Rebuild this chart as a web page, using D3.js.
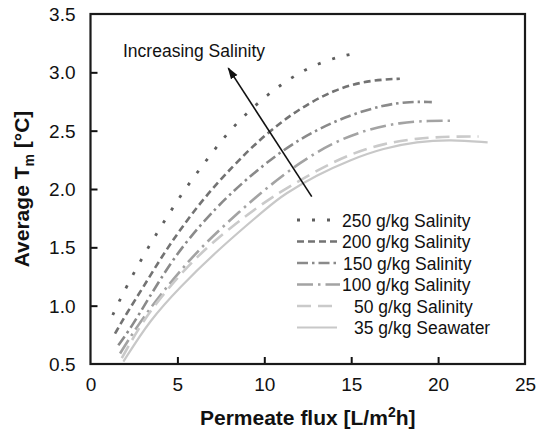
<!DOCTYPE html>
<html><head><meta charset="utf-8">
<script src="https://cdn.jsdelivr.net/npm/d3@7"></script>
<style>
body{margin:0;background:#fff;}
text{font-family:"Liberation Sans",Arial,Helvetica,sans-serif;}
</style></head>
<body><svg id="c" width="536" height="433"></svg>
<script>
// ---- data ----
const xTicks = [0, 5, 10, 15, 20, 25];
const yTicks = [0.5, 1.0, 1.5, 2.0, 2.5, 3.0, 3.5];
const seriesNames = ["250 g/kg Salinity", "200 g/kg Salinity", "150 g/kg Salinity", "100 g/kg Salinity", "50 g/kg Salinity", "35 g/kg Seawater"];

const x250 = [1.28, 1.70, 2.56, 3.48, 4.44, 5.48, 6.59, 7.65, 8.9, 10.2, 11.3, 12.64, 14.36, 15.42];
const y250 = [0.92, 1.055, 1.30, 1.54, 1.77, 2.01, 2.23, 2.44, 2.64, 2.81, 2.93, 3.05, 3.14, 3.165];

const x200 = [1.41, 2.08, 3.04, 4.1, 5.15, 6.59, 8.22, 9.5, 11.0, 12.5, 14.0, 15.5, 16.9, 17.8];
const y200 = [0.76, 0.935, 1.16, 1.42, 1.65, 1.935, 2.20, 2.39, 2.58, 2.73, 2.845, 2.915, 2.94, 2.945];

const x150 = [1.6, 2.37, 3.33, 4.58, 5.73, 7.27, 8.22, 9.18, 11.1, 13.02, 14.94, 16.86, 18.4, 19.64];
const y150 = [0.66, 0.82, 1.06, 1.36, 1.59, 1.845, 1.98, 2.11, 2.34, 2.51, 2.635, 2.72, 2.75, 2.745];

const x100 = [1.7, 2.66, 4.0, 5.34, 6.69, 8.6, 10.14, 12.06, 13.98, 15.9, 17.82, 19.5, 20.8];
const y100 = [0.59, 0.82, 1.09, 1.33, 1.55, 1.81, 2.01, 2.23, 2.40, 2.51, 2.57, 2.585, 2.585];

const x50 = [1.8, 3.04, 4.58, 6.11, 8.03, 10.14, 11.1, 13.02, 14.94, 16.86, 18.78, 20.7, 22.33];
const y50 = [0.55, 0.88, 1.17, 1.42, 1.67, 1.90, 1.99, 2.16, 2.30, 2.39, 2.435, 2.45, 2.45];

const x35 = [1.89, 3.43, 5.15, 7.27, 10.33, 11.1, 13.02, 14.94, 16.86, 18.78, 20.7, 22.85];
const y35 = [0.52, 0.88, 1.16, 1.47, 1.86, 1.95, 2.12, 2.25, 2.35, 2.405, 2.425, 2.40];

// arrow annotation (data coords): start -> tip
const arrowFrom = [12.73, 1.935];
const arrowTo = [7.93, 3.036];
const annotationText = "Increasing Salinity";
const annotationPos = [1.87, 3.13];

// ---- styles ----
const styles = [
  {color: "#5e5e5e", dash: "3,12", width: 2.8},
  {color: "#737373", dash: "7,4", width: 2.6},
  {color: "#8a8a8a", dash: "11,4,2.5,4", width: 2.6},
  {color: "#a3a3a3", dash: "16,5,2.5,5", width: 2.6},
  {color: "#cacaca", dash: "14,7", width: 2.6},
  {color: "#c8c8c8", dash: null, width: 2.2}
];
const xs = [x250, x200, x150, x100, x50, x35];
const ys = [y250, y200, y150, y100, y50, y35];

const svg = d3.select("#c");
const L = 90.5, R = 525, T = 14, B = 364;
const x = d3.scaleLinear().domain([0, 25]).range([L, R]);
const y = d3.scaleLinear().domain([0.5, 3.5]).range([B, T]);

// axes (ticks inward)
const gx = svg.append("g").attr("transform", `translate(0,${B})`)
  .call(d3.axisBottom(x).tickValues(xTicks).tickSizeInner(-7).tickSizeOuter(0).tickPadding(14).tickFormat(d3.format("d")));
const gy = svg.append("g").attr("transform", `translate(${L},0)`)
  .call(d3.axisLeft(y).tickValues(yTicks).tickSizeInner(-7).tickSizeOuter(0).tickPadding(15).tickFormat(d3.format(".1f")));
[gx, gy].forEach(g => {
  g.select(".domain").remove();
  g.selectAll(".tick line").attr("stroke", "#111").attr("stroke-width", 2);
  g.selectAll(".tick text").attr("fill", "#111").style("font-size", "19px");
});
gx.selectAll(".tick").filter(d => d === 0 || d === 25).select("line").remove();
gy.selectAll(".tick").filter(d => d === 0.5 || d === 3.5).select("line").remove();
gy.selectAll(".tick text").attr("dy", "0.35em");

// frame
svg.append("rect").attr("x", L).attr("y", T).attr("width", R - L).attr("height", B - T)
  .attr("fill", "none").attr("stroke", "#1a1a1a").attr("stroke-width", 2.2);

// curves
const line = d3.line().x(d => x(d[0])).y(d => y(d[1])).curve(d3.curveBasis);
xs.forEach((xa, i) => {
  const pts = xa.map((v, j) => [v, ys[i][j]]);
  svg.append("path").datum(pts).attr("d", line)
    .attr("fill", "none").attr("stroke", styles[i].color)
    .attr("stroke-width", styles[i].width)
    .attr("stroke-dasharray", styles[i].dash);
});

// arrow
const defs = svg.append("defs");
defs.append("marker").attr("id", "ah").attr("viewBox", "0 0 10 10").attr("refX", 9).attr("refY", 5)
  .attr("markerWidth", 12).attr("markerHeight", 12).attr("markerUnits", "userSpaceOnUse").attr("orient", "auto")
  .append("path").attr("d", "M0,1.8 L10,5 L0,8.2 z").attr("fill", "#111");
svg.append("line").attr("x1", x(arrowFrom[0])).attr("y1", y(arrowFrom[1]))
  .attr("x2", x(arrowTo[0])).attr("y2", y(arrowTo[1]))
  .attr("stroke", "#111").attr("stroke-width", 1.6).attr("marker-end", "url(#ah)");
svg.append("text").attr("x", x(annotationPos[0])).attr("y", y(annotationPos[1]))
  .style("font-size", "17.5px").attr("fill", "#111").text(annotationText);

// legend
const legX1 = 297, legX2 = 340, legY0 = 220, legDy = 21.5;
const textX = [342, 342, 343, 342, 354, 354];
seriesNames.forEach((name, i) => {
  const yy = legY0 + i * legDy;
  svg.append("line").attr("x1", legX1).attr("x2", i >= 4 ? legX2 - 3 : legX2).attr("y1", yy).attr("y2", yy)
    .attr("stroke", styles[i].color).attr("stroke-width", styles[i].width)
    .attr("stroke-dasharray", styles[i].dash);
  svg.append("text").attr("x", textX[i]).attr("y", yy + 6.5).style("font-size", "17.5px")
    .attr("fill", "#111").text(name);
});

// axis titles
const xt = svg.append("text").attr("x", (L + R) / 2).attr("y", 425).attr("text-anchor", "middle")
  .style("font-size", "21px").style("font-weight", "bold").attr("fill", "#111");
xt.append("tspan").text("Permeate flux [L/m");
xt.append("tspan").attr("dy", -8).style("font-size", "14px").text("2");
xt.append("tspan").attr("dy", 8).text("h]");

const yt = svg.append("text").attr("transform", "translate(29,189) rotate(-90)").attr("text-anchor", "middle")
  .style("font-size", "21px").style("font-weight", "bold").attr("fill", "#111");
yt.append("tspan").text("Average T");
yt.append("tspan").attr("dy", 5).style("font-size", "14px").text("m");
yt.append("tspan").attr("dy", -5).text(" [°C]");
</script></body></html>
